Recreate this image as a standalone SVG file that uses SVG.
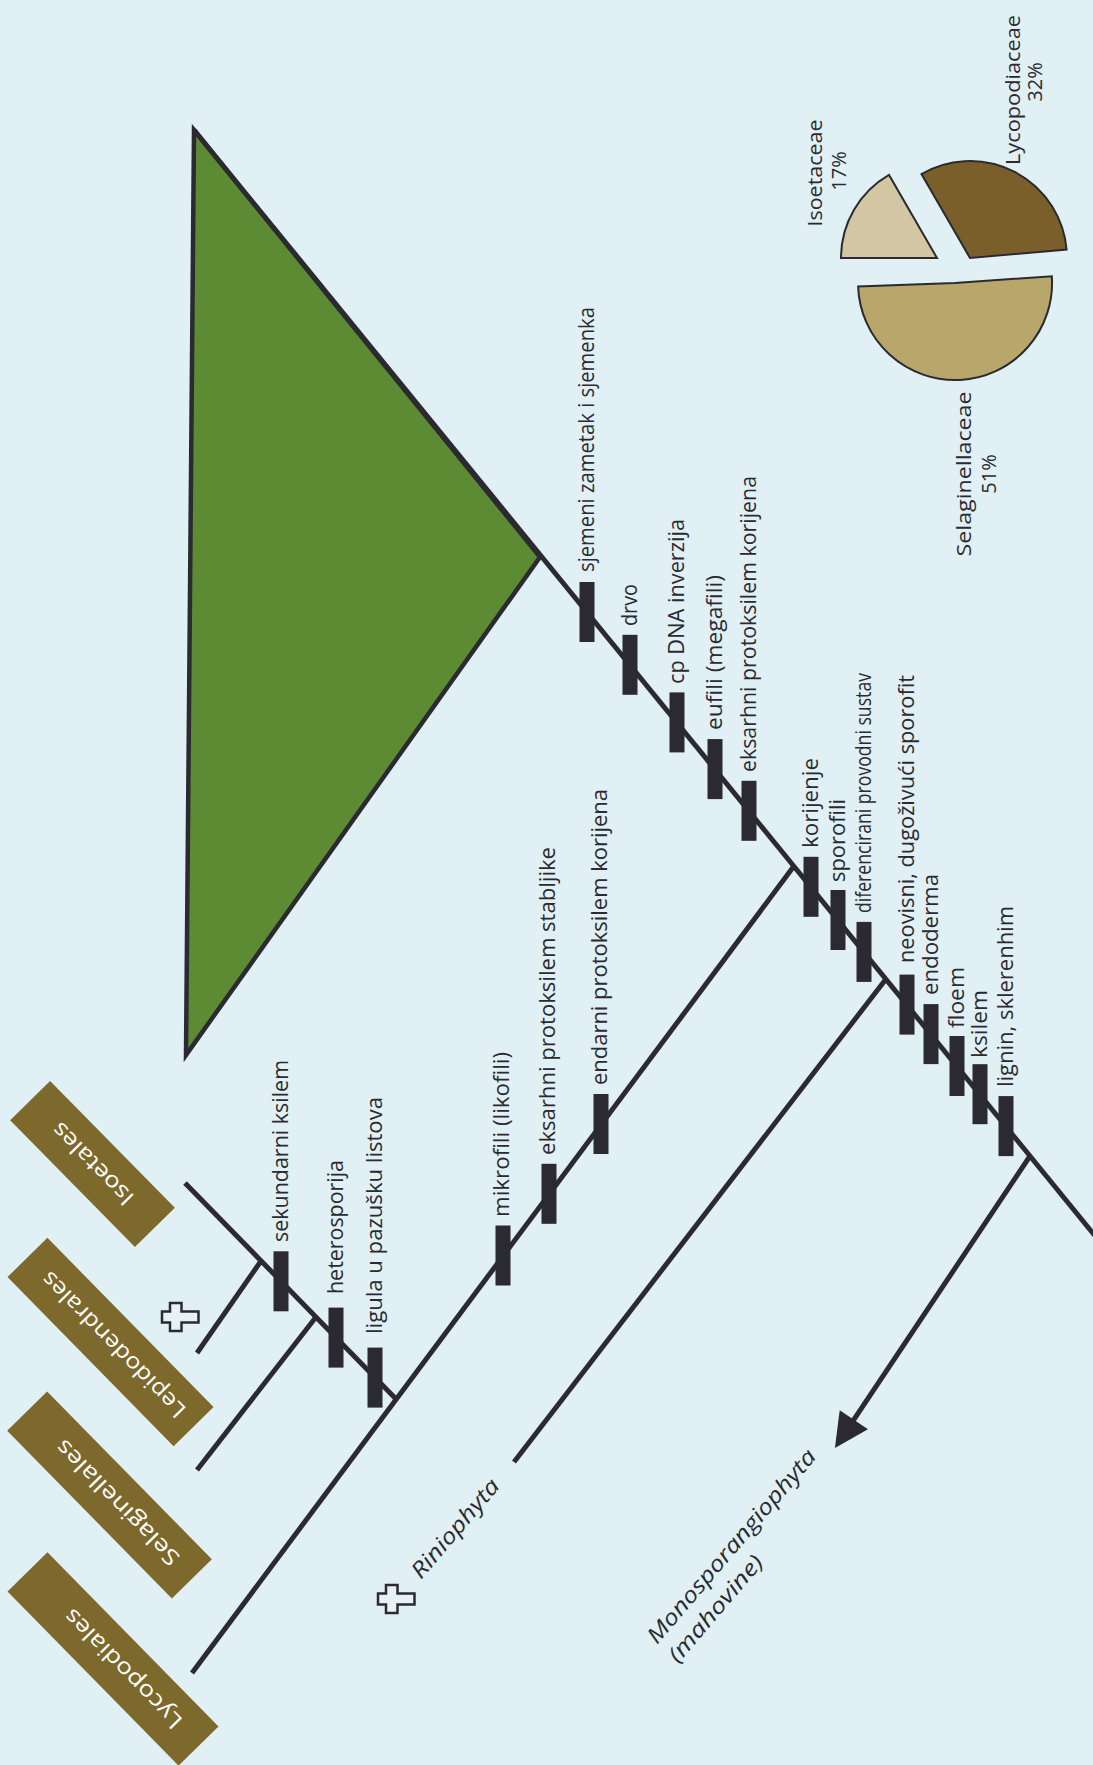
<svg xmlns="http://www.w3.org/2000/svg" width="1093" height="1765" viewBox="0 0 1093 1765">
<defs>
<style>
.bg{fill:#e0f0f5}
.ln{stroke:#2b2a30;stroke-width:5;fill:none;stroke-linecap:butt}
.tick{fill:#2b2a30}
.lbl{font-family:"Open Sans","Liberation Sans",sans-serif;font-size:21px;fill:#2b2a30}
.lbl2{font-family:"Open Sans","Liberation Sans",sans-serif;font-size:22px;fill:#2b2a30}
.ital{font-family:"Open Sans","Liberation Sans",sans-serif;font-size:22px;font-style:italic;fill:#2b2a30}
.leaf{fill:#7d692b}
.leaflbl{font-family:"Open Sans","Liberation Sans",sans-serif;font-size:22px;fill:#ffffff;text-anchor:middle}
.pielbl{font-family:"Open Sans","Liberation Sans",sans-serif;font-size:20px;fill:#2b2a30;text-anchor:middle}
.slice{stroke:#2b2a30;stroke-width:2}
.cross{fill:#e6f2f6;stroke:#2b2a30;stroke-width:2.5}
</style>
<marker id="arrowhead" markerUnits="userSpaceOnUse" markerWidth="50" markerHeight="50" viewBox="-30 -25 50 50" refX="0" refY="0" orient="auto">
<path d="M10,0 L-24,-17 L-24,17 Z" fill="#2b2a30"/>
</marker>
<path id="crossShape" d="M-18,-5.5 H-10 V-14 H1.5 V-5.5 H18.5 V5.5 H1.5 V14 H-10 V5.5 H-18 Z"/>
</defs>
<rect class="bg" x="0" y="0" width="1093" height="1765"/>

<g id="node-spermatophyta">
<polygon points="194,130 540,557 186,1055" fill="#5d8b33" stroke="#2b2a30" stroke-width="4.5" stroke-linejoin="miter"/>
</g>

<g id="connectors">
<line class="ln" x1="194" y1="130" x2="1100" y2="1242"/>
<line class="ln" x1="794" y1="866" x2="192" y2="1673"/>
<line class="ln" x1="886" y1="979" x2="514" y2="1462"/>
<line class="ln" x1="1030" y1="1156" x2="840.5" y2="1439.7" marker-end="url(#arrowhead)"/>
<line class="ln" x1="396" y1="1399" x2="185" y2="1183"/>
<line class="ln" x1="261" y1="1261" x2="197" y2="1353"/>
<line class="ln" x1="316" y1="1317" x2="197" y2="1470"/>
</g>

<g id="apomorphies-trunk">
<g id="t1"><rect class="tick" x="579.5" y="582" width="15" height="60"/><text class="lbl" transform="translate(594,572) rotate(-90)" textLength="265" lengthAdjust="spacingAndGlyphs">sjemeni zametak i sjemenka</text></g>
<g id="t2"><rect class="tick" x="622.5" y="634.8" width="15" height="60"/><text class="lbl" transform="translate(637,626) rotate(-90)" textLength="42" lengthAdjust="spacingAndGlyphs">drvo</text></g>
<g id="t3"><rect class="tick" x="669.5" y="692.4" width="15" height="60"/><text class="lbl" transform="translate(684,684) rotate(-90)" textLength="165" lengthAdjust="spacingAndGlyphs">cp DNA inverzija</text></g>
<g id="t4"><rect class="tick" x="707.5" y="739.1" width="15" height="60"/><text class="lbl" transform="translate(722,730) rotate(-90)" textLength="155" lengthAdjust="spacingAndGlyphs">eufili (megafili)</text></g>
<g id="t5"><rect class="tick" x="741.5" y="780.8" width="15" height="60"/><text class="lbl" transform="translate(756,772) rotate(-90)" textLength="296" lengthAdjust="spacingAndGlyphs">eksarhni protoksilem korijena</text></g>
<g id="t6"><rect class="tick" x="803.5" y="856.8" width="15" height="60"/><text class="lbl" transform="translate(818,848) rotate(-90)" textLength="90" lengthAdjust="spacingAndGlyphs">korijenje</text></g>
<g id="t7"><rect class="tick" x="830.5" y="890" width="15" height="60"/><text class="lbl" transform="translate(845,882) rotate(-90)" textLength="83" lengthAdjust="spacingAndGlyphs">sporofili</text></g>
<g id="t8"><rect class="tick" x="856.5" y="921.9" width="15" height="60"/><text class="lbl" transform="translate(871,913) rotate(-90)" textLength="240" lengthAdjust="spacingAndGlyphs">diferencirani provodni sustav</text></g>
<g id="t9"><rect class="tick" x="899.5" y="974.6" width="15" height="60"/><text class="lbl" transform="translate(914,963) rotate(-90)" textLength="288" lengthAdjust="spacingAndGlyphs">neovisni, dugoživući sporofit</text></g>
<g id="t10"><rect class="tick" x="923.5" y="1004.1" width="15" height="60"/><text class="lbl" transform="translate(938,995) rotate(-90)" textLength="121" lengthAdjust="spacingAndGlyphs">endoderma</text></g>
<g id="t11"><rect class="tick" x="949.5" y="1036" width="15" height="60"/><text class="lbl" transform="translate(964,1028) rotate(-90)" textLength="61" lengthAdjust="spacingAndGlyphs">floem</text></g>
<g id="t12"><rect class="tick" x="972.5" y="1064.2" width="15" height="60"/><text class="lbl" transform="translate(987,1058) rotate(-90)" textLength="68" lengthAdjust="spacingAndGlyphs">ksilem</text></g>
<g id="t13"><rect class="tick" x="998.5" y="1096.1" width="15" height="60"/><text class="lbl" transform="translate(1013,1087) rotate(-90)" textLength="181" lengthAdjust="spacingAndGlyphs">lignin, sklerenhim</text></g>
</g>

<g id="apomorphies-lycopodiophyta">
<g id="l1"><rect class="tick" x="593.5" y="1094" width="15" height="60"/><text class="lbl2" transform="translate(607,1085) rotate(-90)" textLength="296" lengthAdjust="spacingAndGlyphs">endarni protoksilem korijena</text></g>
<g id="l2"><rect class="tick" x="541.5" y="1163.8" width="15" height="60"/><text class="lbl2" transform="translate(555,1155) rotate(-90)" textLength="308" lengthAdjust="spacingAndGlyphs">eksarhni protoksilem stabljike</text></g>
<g id="l3"><rect class="tick" x="495.5" y="1225.5" width="15" height="60"/><text class="lbl2" transform="translate(509,1217) rotate(-90)" textLength="165" lengthAdjust="spacingAndGlyphs">mikrofili (likofili)</text></g>
<g id="i1"><rect class="tick" x="273.5" y="1251.3" width="15" height="60"/><text class="lbl2" transform="translate(288,1242) rotate(-90)" textLength="182" lengthAdjust="spacingAndGlyphs">sekundarni ksilem</text></g>
<g id="i2"><rect class="tick" x="328.5" y="1307.6" width="15" height="60"/><text class="lbl2" transform="translate(343,1294) rotate(-90)" textLength="134" lengthAdjust="spacingAndGlyphs">heterosporija</text></g>
<g id="i3"><rect class="tick" x="367.5" y="1347.6" width="15" height="60"/><text class="lbl2" transform="translate(382,1334) rotate(-90)" textLength="237" lengthAdjust="spacingAndGlyphs">ligula u pazušku listova</text></g>
</g>

<g id="leaf-isoetales" transform="translate(92.5,1164) rotate(45.5)">
<rect class="leaf" x="-89" y="-28" width="178" height="56"/>
<text class="leaflbl" transform="rotate(180)" x="0" y="0" dy="0.35em" textLength="106" lengthAdjust="spacingAndGlyphs">Isoetales</text>
</g>
<g id="leaf-lepidodendrales" transform="translate(110.5,1342) rotate(45.5)">
<rect class="leaf" x="-118.5" y="-28" width="237" height="56"/>
<text class="leaflbl" transform="rotate(180)" x="-4" y="0" dy="0.35em" textLength="195" lengthAdjust="spacingAndGlyphs">Lepidodendrales</text>
</g>
<g id="leaf-selaginellales" transform="translate(109.5,1495) rotate(45.5)">
<rect class="leaf" x="-117.5" y="-28" width="235" height="56"/>
<text class="leaflbl" transform="rotate(180)" x="-11" y="0" dy="0.35em" textLength="166" lengthAdjust="spacingAndGlyphs">Selaginellales</text>
</g>
<g id="leaf-lycopodiales" transform="translate(113,1659) rotate(45.5)">
<rect class="leaf" x="-122" y="-28" width="244" height="56"/>
<text class="leaflbl" transform="rotate(180)" x="-14" y="0" dy="0.35em" textLength="158" lengthAdjust="spacingAndGlyphs">Lycopodiales</text>
</g>

<g id="extinct-lepidodendrales">
<use href="#crossShape" class="cross" transform="translate(180,1317)"/>
</g>
<g id="node-riniophyta">
<use href="#crossShape" class="cross" transform="translate(396,1599)"/>
<text class="ital" transform="translate(421,1580) rotate(-49.5)" textLength="123" lengthAdjust="spacingAndGlyphs">Riniophyta</text>
</g>
<g id="node-monosporangiophyta">
<text class="ital" transform="translate(657,1645) rotate(-49.5)" textLength="247" lengthAdjust="spacingAndGlyphs">Monosporangiophyta</text>
<text class="ital" transform="translate(678,1664) rotate(-49.5)" textLength="133" lengthAdjust="spacingAndGlyphs">(mahovine)</text>
</g>

<g id="pie-chart">
<path class="slice" fill="#d2c7a2" d="M937,258 L841,258 A96,96 0 0,1 889,174.9 Z"/>
<path class="slice" fill="#7b5f2b" d="M970,258 L921.5,174 A97,97 0 0,1 1066.6,249.5 Z"/>
<path class="slice" fill="#b9a66b" d="M955,283 L1051.8,276.2 A97,97 0 1,1 858.1,286.4 Z"/>
<text class="pielbl" transform="translate(822,173) rotate(-90)" textLength="107" lengthAdjust="spacingAndGlyphs">Isoetaceae</text>
<text class="pielbl" transform="translate(846,171) rotate(-90)">17%</text>
<text class="pielbl" transform="translate(1020,90) rotate(-90)" textLength="150" lengthAdjust="spacingAndGlyphs">Lycopodiaceae</text>
<text class="pielbl" transform="translate(1042,82) rotate(-90)">32%</text>
<text class="pielbl" transform="translate(971,474) rotate(-90)" textLength="165" lengthAdjust="spacingAndGlyphs">Selaginellaceae</text>
<text class="pielbl" transform="translate(996,474) rotate(-90)">51%</text>
</g>
</svg>
